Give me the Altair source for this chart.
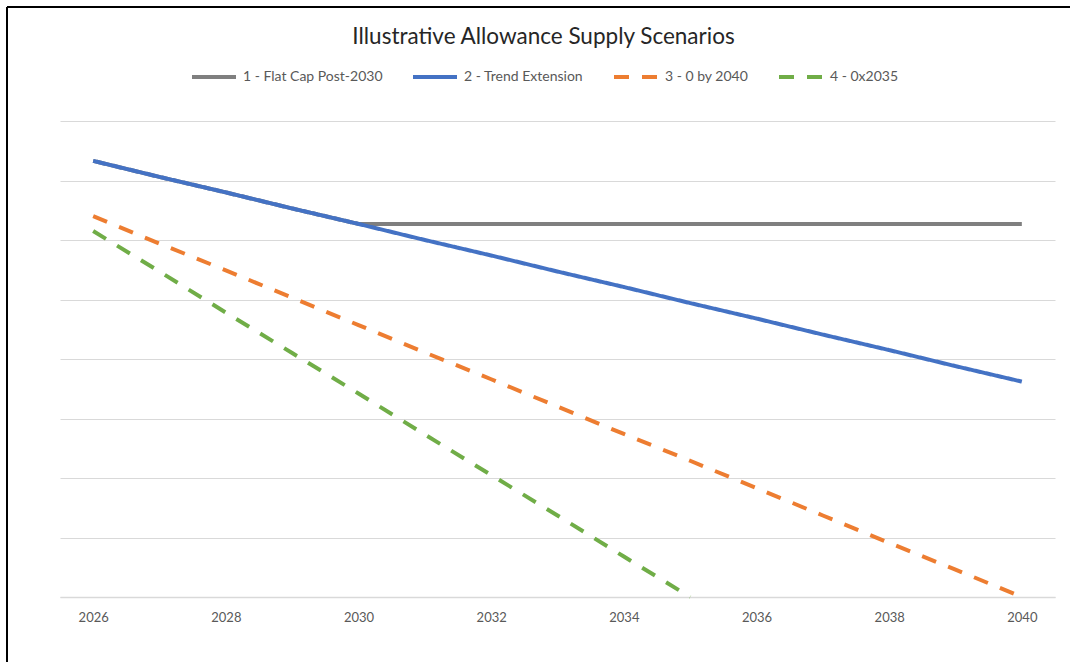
import altair as alt
import pandas as pd

years = list(range(2026, 2041))
series_names = ["1 - Flat Cap Post-2030", "2 - Trend Extension", "3 - 0 by 2040", "4 - 0x2035"]
flat_cap = [73.3, 70.6, 68.0, 65.3, 62.7, 62.7, 62.7, 62.7, 62.7, 62.7, 62.7, 62.7, 62.7, 62.7, 62.7]
trend_ext = [73.3, 70.6, 68.0, 65.3, 62.7, 60.0, 57.4, 54.7, 52.1, 49.4, 46.8, 44.1, 41.5, 38.8, 36.2]
zero_2040 = [64.0, 59.4, 54.9, 50.3, 45.7, 41.1, 36.6, 32.0, 27.4, 22.9, 18.3, 13.7, 9.1, 4.6, 0.0]
zero_2035 = [61.5, 54.7, 47.8, 41.0, 34.2, 27.3, 20.5, 13.7, 6.8, 0.0, None, None, None, None, None]
colors = ["#7F7F7F", "#4472C4", "#ED7D31", "#70AD47"]
dashes = [[1, 0], [1, 0], [15, 13], [15, 13]]
x_ticks = [2026, 2028, 2030, 2032, 2034, 2036, 2038, 2040]
y_grid = [0, 10, 20, 30, 40, 50, 60, 70, 80]

rows = []
for name, vals in zip(series_names, [flat_cap, trend_ext, zero_2040, zero_2035]):
    for y, v in zip(years, vals):
        if v is not None:
            rows.append({"year": y, "value": v, "series": name})
df = pd.DataFrame(rows)

FONT = "Lato"

base = alt.Chart(df).encode(
    x=alt.X("year:Q", scale=alt.Scale(domain=[2025.5, 2040.5], nice=False, zero=False),
            axis=alt.Axis(values=x_ticks, format="d", title=None, grid=False, ticks=False,
                          domain=True, domainColor="#D9D9D9", domainWidth=1.5,
                          labelFont=FONT, labelFontSize=13, labelColor="#595959", labelPadding=14)),
    y=alt.Y("value:Q", scale=alt.Scale(domain=[0, 80], nice=False),
            axis=alt.Axis(values=y_grid, title=None, labels=False, ticks=False, domain=False,
                          grid=True, gridColor="#D9D9D9", gridWidth=1)),
    color=alt.Color("series:N", scale=alt.Scale(domain=series_names, range=colors),
                    legend=alt.Legend(title=None, orient="none", direction="horizontal",
                                      legendX=130, legendY=-68, symbolType="stroke",
                                      symbolSize=1936, symbolStrokeWidth=4, labelOffset=5,
                                      columnPadding=22, labelFont=FONT, labelFontSize=14,
                                      labelColor="#595959", symbolOpacity=1)),
    strokeDash=alt.StrokeDash("series:N", scale=alt.Scale(domain=series_names, range=dashes), legend=None),
)

gray = base.transform_filter(alt.datum.series == series_names[0]).mark_line(strokeWidth=4)
others = base.transform_filter(alt.datum.series != series_names[0]).mark_line(strokeWidth=4)

top_border = alt.Chart(df).mark_rule(color="#000000", strokeWidth=1.5, clip=False).encode(
    x=alt.value(-53), x2=alt.value(1015), y=alt.value(-114))
left_border = alt.Chart(df).mark_rule(color="#000000", strokeWidth=1.5, clip=False).encode(
    x=alt.value(-53), y=alt.value(-114), y2=alt.value(545))

chart = alt.layer(gray, others, top_border, left_border).properties(
    width=995, height=476,
    background="white",
    autosize=alt.AutoSizeParams(type="none"),
    padding={"left": 60, "top": 121, "right": 15, "bottom": 65},
    title=alt.TitleParams("Illustrative Allowance Supply Scenarios", anchor="middle", dx=-14,
                          offset=0, dy=42, font=FONT, fontSize=22.5, fontWeight="normal",
                          color="#262626"),
).configure_view(stroke=None)

chart.save("out.html", embed_options={"renderer": "svg", "actions": False})
